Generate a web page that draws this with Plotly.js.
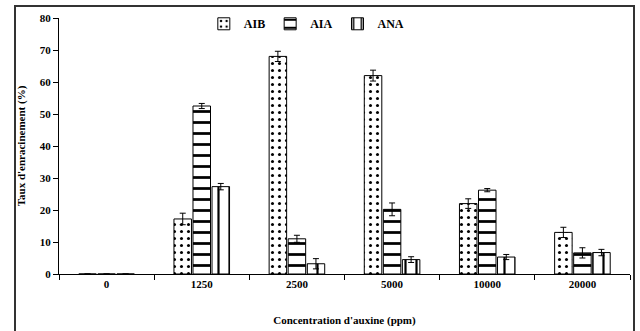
<!DOCTYPE html>
<html><head><meta charset="utf-8">
<script src="https://cdn.plot.ly/plotly-3.0.1.min.js"></script>
<style>
body{margin:0;padding:0;background:#fff;}
#wrap{position:relative;width:640px;height:331px;}
#chart{position:absolute;left:0;top:0;width:640px;height:331px;}
#frame{position:absolute;left:14px;top:5px;width:617px;height:340px;border:2px solid #333;pointer-events:none;}
</style>
</head><body>
<div id="wrap"><div id="chart"></div><div id="frame"></div></div>
<script>
const categories = ['0','1250','2500','5000','10000','20000'];
const AIB = [0, 17.2, 68.0, 62.0, 22.0, 13.0];
const AIB_err = [0, 1.8, 1.6, 1.7, 1.5, 1.6];
const AIA = [0, 52.5, 11.0, 20.2, 26.2, 6.6];
const AIA_err = [0, 0.8, 1.1, 2.0, 0.5, 1.6];
const ANA = [0, 27.3, 3.2, 4.5, 5.3, 6.7];
const ANA_err = [0, 1.0, 1.6, 0.9, 0.8, 1.0];
const yTicks = [0,10,20,30,40,50,60,70,80];

const font = {family:'Liberation Serif, Times New Roman, serif', color:'#000'};
function bold(sz){ return Object.assign({}, font, {size:sz, weight:'bold'}); }
function mk(name, y, err, shape, size, sol){
  return {type:'bar', name:name, x:categories, y:y,
    marker:{color:'#fff', line:{color:'#000', width:1},
      pattern:{shape:shape, fgcolor:'#000', bgcolor:'#fff', size:size, solidity:sol}},
    error_y:{type:'data', array:err, visible:true, color:'#000', thickness:1, width:3}};
}
const data = [
  mk('AIB', AIB, AIB_err, '.', 7, 0.15),
  mk('AIA', AIA, AIA_err, '-', 11, 0.25),
  mk('ANA', ANA, ANA_err, '|', 11, 0.2)
];
const layout = {
  width:640, height:331,
  margin:{l:59, r:10, t:17, b:57},
  paper_bgcolor:'#fff', plot_bgcolor:'#fff',
  barmode:'group', bargap:0.4, bargroupgap:0.08,
  showlegend:true,
  legend:{orientation:'h', x:0.434, xanchor:'center', y:1.03, yanchor:'top',
    font:bold(12), bgcolor:'rgba(0,0,0,0)',
    itemwidth:30, tracegroupgap:0},
  font:font,
  xaxis:{type:'category', range:[-0.5,5.5], showline:true, linecolor:'#000', linewidth:1,
    ticks:'outside', ticklen:5, tickcolor:'#000', tickson:'boundaries', showgrid:false,
    tickfont:bold(11),
    title:{text:"Concentration d'auxine (ppm)", font:bold(11), standoff:27}},
  yaxis:{range:[0,80], tickvals:yTicks, showline:true, linecolor:'#000', linewidth:1,
    ticks:'outside', ticklen:5, tickcolor:'#000', showgrid:false, zeroline:false,
    tickfont:bold(11),
    title:{text:"Taux d'enracinement (%)", font:bold(11), standoff:11}}
};
Plotly.newPlot('chart', data, layout, {displayModeBar:false, staticPlot:true});
</script>
</body></html>
